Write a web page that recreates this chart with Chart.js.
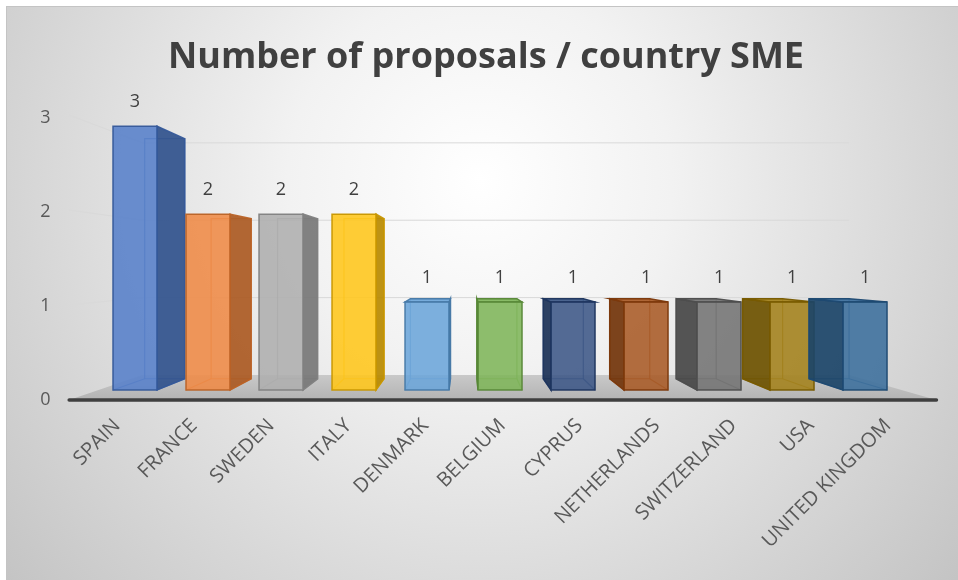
<!DOCTYPE html>
<html>
<head>
<meta charset="utf-8">
<title>Number of proposals / country SME</title>
<script src="https://cdn.jsdelivr.net/npm/chart.js@4.4.1/dist/chart.umd.min.js"></script>
<style>
  html, body { margin: 0; padding: 0; background: #fff; }
  canvas { display: block; }
</style>
</head>
<body>
<canvas id="bar-chart" width="958" height="580"></canvas>
<script>
'use strict';

const countries = ['SPAIN', 'FRANCE', 'SWEDEN', 'ITALY', 'DENMARK', 'BELGIUM', 'CYPRUS',
  'NETHERLANDS', 'SWITZERLAND', 'USA', 'UNITED KINGDOM'];
const proposals = [3, 2, 2, 2, 1, 1, 1, 1, 1, 1, 1];
const yTicks = [0, 1, 2, 3];
const barColors = ['#4472C4', '#ED7D31', '#A5A5A5', '#FFC000', '#5B9BD5', '#70AD47',
  '#264478', '#9E480E', '#636363', '#997300', '#255E91'];

// fake 3D: vanishing point and depth scale of each plane
const VP = { x: 465, y: 265 };
const DEPTH = { front: 1.08, barBack: 0.91, wall: 0.88 };
// value range of the hidden scales the boxes sit on
const BAR_X = { min: -0.774, max: 10.842 };
const BAR_Y = { min: -0.1136, max: 3.0909 };

function project(x, y, s) {
  return [VP.x + s * (x - VP.x), VP.y + s * (y - VP.y)];
}

function hexRgb(hex) {
  const n = parseInt(hex.slice(1), 16);
  return [(n >> 16) & 255, (n >> 8) & 255, n & 255];
}

// f < 0 darkens towards black, f > 0 lightens towards white
function shade(hex, f, a) {
  const c = hexRgb(hex).map(v => Math.round(f < 0 ? v * (1 + f) : v + (255 - v) * f));
  return `rgba(${c[0]},${c[1]},${c[2]},${a === undefined ? 1 : a})`;
}

function poly(ctx, pts) {
  ctx.beginPath();
  ctx.moveTo(pts[0][0], pts[0][1]);
  for (let i = 1; i < pts.length; i++) ctx.lineTo(pts[i][0], pts[i][1]);
  ctx.closePath();
}

const background = {
  id: 'background',
  beforeDraw(chart) {
    const ctx = chart.ctx;
    const w = chart.width, h = chart.height;
    ctx.save();
    ctx.fillStyle = '#ffffff';
    ctx.fillRect(0, 0, w, h);
    const g = ctx.createRadialGradient(480, 180, 0, 480, 180, 640);
    g.addColorStop(0, '#ffffff');
    g.addColorStop(0.3, '#f2f2f2');
    g.addColorStop(1, '#c2c2c2');
    ctx.fillStyle = g;
    ctx.fillRect(6, 6, w - 6, h - 6);
    ctx.strokeStyle = '#c4c4c4';
    ctx.lineWidth = 1;
    ctx.strokeRect(6.5, 6.5, w, h);
    ctx.restore();
  }
};

const bars3d = {
  id: 'bars3d',
  beforeDatasetsDraw(chart) {
    const ctx = chart.ctx;
    const x2 = chart.scales.x2, y2 = chart.scales.y2;
    const L = x2.getPixelForValue(-0.5);
    const R = x2.getPixelForValue(countries.length - 0.5);
    const base = y2.getPixelForValue(0);

    ctx.save();
    // gridlines on left and back walls
    ctx.strokeStyle = '#d9d9d9';
    ctx.lineWidth = 1;
    yTicks.filter(v => v > 0).forEach(v => {
      const y = y2.getPixelForValue(v);
      const f = project(L, y, DEPTH.front);
      const bl = project(L, y, DEPTH.wall);
      const br = project(R, y, DEPTH.wall);
      ctx.beginPath();
      ctx.moveTo(f[0], f[1]);
      ctx.lineTo(bl[0], bl[1]);
      ctx.lineTo(br[0], br[1]);
      ctx.stroke();
    });

    // floor
    const fl = project(L, base, DEPTH.front), fr = project(R, base, DEPTH.front);
    const bl = project(L, base, DEPTH.wall), br = project(R, base, DEPTH.wall);
    const fg = ctx.createLinearGradient(0, bl[1], 0, fl[1]);
    fg.addColorStop(0, '#c9c9c9');
    fg.addColorStop(1, '#b3b3b3');
    ctx.fillStyle = fg;
    poly(ctx, [fl, fr, br, bl]);
    ctx.fill();
    ctx.strokeStyle = '#3f3f3f';
    ctx.lineWidth = 3.5;
    ctx.lineCap = 'round';
    ctx.beginPath();
    ctx.moveTo(fl[0], fl[1]);
    ctx.lineTo(fr[0], fr[1]);
    ctx.stroke();
    ctx.lineCap = 'butt';

    // the boxes
    const meta = chart.getDatasetMeta(0);
    meta.data.forEach((bar, i) => {
      const p = bar.getProps(['x', 'y', 'base', 'width'], true);
      const x0 = p.x - p.width / 2, x1 = p.x + p.width / 2;
      const F = [[x0, p.y], [x1, p.y], [x1, p.base], [x0, p.base]];
      const B = F.map(q => project(q[0], q[1], DEPTH.barBack));
      const col = barColors[i];
      const edge = shade(col, -0.22, 0.95);

      // back edges, seen through the glass
      ctx.strokeStyle = shade(col, -0.12, 0.7);
      ctx.lineWidth = 1.2;
      poly(ctx, B);
      ctx.stroke();
      [[F[3], B[3]], [F[2], B[2]]].forEach(([a, b]) => {
        ctx.beginPath();
        ctx.moveTo(a[0], a[1]);
        ctx.lineTo(b[0], b[1]);
        ctx.stroke();
      });

      const faces = [];
      if (B[1][0] > F[1][0]) faces.push([[F[1], F[2], B[2], B[1]], shade(col, -0.28, 0.92)]);
      if (B[0][0] < F[0][0]) faces.push([[F[0], F[3], B[3], B[0]], shade(col, -0.28, 0.92)]);
      if (B[0][1] < F[0][1]) faces.push([[F[0], F[1], B[1], B[0]], shade(col, 0.1, 0.92)]);
      faces.forEach(([pts, fill]) => {
        ctx.fillStyle = fill;
        poly(ctx, pts);
        ctx.fill();
        ctx.strokeStyle = edge;
        ctx.lineWidth = 1.5;
        ctx.stroke();
      });

      ctx.fillStyle = shade(col, 0.1, 0.88);
      poly(ctx, F);
      ctx.fill();
      ctx.strokeStyle = edge;
      ctx.lineWidth = 1.5;
      ctx.stroke();
    });
    ctx.restore();
    return false;
  },
  afterDraw(chart) {
    // value labels above each bar
    const ctx = chart.ctx;
    const meta = chart.getDatasetMeta(0);
    ctx.save();
    ctx.font = '18px "Open Sans"';
    ctx.fillStyle = '#404040';
    ctx.textAlign = 'center';
    ctx.textBaseline = 'middle';
    meta.data.forEach((bar, i) => {
      ctx.fillText(String(proposals[i]), bar.x, bar.y - 24);
    });
    ctx.restore();
  }
};

new Chart(document.getElementById('bar-chart'), {
  type: 'bar',
  data: {
    labels: countries,
    datasets: [{
      label: 'Proposals',
      data: proposals.map((v, i) => ({ x: i, y: v })),
      xAxisID: 'x2',
      yAxisID: 'y2',
      backgroundColor: barColors,
      barThickness: 44
    }]
  },
  plugins: [background, bars3d],
  options: {
    responsive: false,
    animation: false,
    devicePixelRatio: 1,
    layout: { padding: { top: 6, left: 14, right: 0, bottom: 0 } },
    plugins: {
      legend: { display: false },
      tooltip: { enabled: false },
      title: {
        display: true,
        text: 'Number of proposals / country SME',
        color: '#404040',
        font: { family: 'Open Sans', size: 36, weight: 'bold' },
        padding: { top: 30, bottom: 39 }
      }
    },
    scales: {
      x: {
        type: 'category',
        position: 'bottom',
        grid: { display: false, drawTicks: false },
        border: { display: false },
        ticks: {
          autoSkip: false,
          minRotation: 45,
          maxRotation: 45,
          padding: 14,
          color: '#595959',
          font: { family: 'Open Sans', size: 20 }
        },
        afterFit: s => { s.height = 180; }
      },
      y: {
        type: 'linear',
        position: 'left',
        min: 0,
        max: 3,
        grid: { display: false, drawTicks: false },
        border: { display: false },
        ticks: {
          stepSize: 1,
          padding: 28,
          color: '#595959',
          font: { family: 'Open Sans', size: 18 }
        },
        afterFit: s => { s.width = 64.5; }
      },
      yRight: {
        type: 'linear',
        position: 'right',
        grid: { display: false },
        border: { display: false },
        ticks: { display: false },
        afterFit: s => { s.width = 31.5; }
      },
      x2: {
        type: 'linear', display: false, bounds: 'data', offset: false,
        min: BAR_X.min, max: BAR_X.max,
        afterBuildTicks: s => { s.min = BAR_X.min; s.max = BAR_X.max; }
      },
      y2: {
        type: 'linear', display: false, bounds: 'data',
        min: BAR_Y.min, max: BAR_Y.max,
        afterBuildTicks: s => { s.min = BAR_Y.min; s.max = BAR_Y.max; }
      }
    }
  }
});
</script>
</body>
</html>
